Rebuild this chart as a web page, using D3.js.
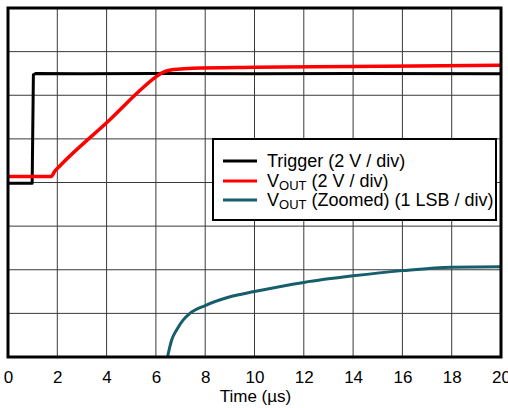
<!DOCTYPE html>
<html>
<head>
<meta charset="utf-8">
<script src="https://cdn.jsdelivr.net/npm/d3@7"></script>
<style>
  html, body { margin: 0; padding: 0; background: #fff; }
  svg { display: block; font-family: "Liberation Sans", Arial, sans-serif; }
</style>
</head>
<body>
<svg id="chart" width="508" height="408"></svg>
<script>
// ---- data (divisions: 0 = bottom grid line, 8 = top grid line) ----
const xTicks = [0, 2, 4, 6, 8, 10, 12, 14, 16, 18, 20];
const yDivs = [0, 1, 2, 3, 4, 5, 6, 7, 8];

const triggerT = [0, 0.98, 1.03, 1.12, 3, 6, 10, 14, 20];
const triggerV = [3.98, 3.98, 6.47, 6.5, 6.49, 6.5, 6.49, 6.5, 6.49];

const voutT = [0, 1.75, 1.9, 2.1, 4.0, 6.0, 6.2, 6.4, 6.6, 7.0, 7.5, 10, 14, 20];
const voutV = [4.14, 4.14, 4.26, 4.38, 5.37, 6.42, 6.5, 6.55, 6.58, 6.6, 6.62, 6.64, 6.66, 6.69];

const zoomT = [6.47, 6.64, 6.84, 7.11, 7.38, 8.0, 8.94, 10, 12, 14, 16, 18, 20];
const zoomV = [0, 0.39, 0.62, 0.85, 1.0, 1.18, 1.37, 1.50, 1.71, 1.86, 1.98, 2.06, 2.07];

const legendLabels = [
  {main: "Trigger (2 V / div)", sub: null, rest: null},
  {main: "V", sub: "OUT", rest: " (2 V / div)"},
  {main: "V", sub: "OUT", rest: " (Zoomed) (1 LSB / div)"}
];
const colors = ["#000000", "#ff0000", "#175e6c"];

// ---- layout ----
const svg = d3.select("#chart");
const pL = 8, pR = 501, pT = 8, pB = 357;

const x = d3.scaleLinear().domain([0, 20]).range([pL, pR]);
const y = d3.scaleLinear().domain([0, 8]).range([pB, pT]);

// grid
const grid = svg.append("g");
grid.selectAll("line.vx").data(xTicks).join("line")
  .attr("x1", d => x(d)).attr("x2", d => x(d))
  .attr("y1", pT).attr("y2", pB)
  .attr("stroke", "#3a3a3a").attr("stroke-width", 1);
grid.selectAll("line.hy").data(yDivs).join("line")
  .attr("y1", d => y(d)).attr("y2", d => y(d))
  .attr("x1", pL).attr("x2", pR)
  .attr("stroke", "#3a3a3a").attr("stroke-width", 1);

// clip
svg.append("clipPath").attr("id", "clip").append("rect")
  .attr("x", pL).attr("y", pT).attr("width", pR - pL).attr("height", pB - pT);

const series = [
  {t: triggerT, v: triggerV, curve: d3.curveLinear, w: 3},
  {t: voutT, v: voutV, curve: d3.curveMonotoneX, w: 3.5},
  {t: zoomT, v: zoomV, curve: d3.curveMonotoneX, w: 3}
];

const plot = svg.append("g").attr("clip-path", "url(#clip)");
series.forEach((s, i) => {
  const pts = s.t.map((t, k) => [t, s.v[k]]);
  const line = d3.line().x(d => x(d[0])).y(d => y(d[1])).curve(s.curve);
  plot.append("path").datum(pts)
    .attr("d", line)
    .attr("fill", "none")
    .attr("stroke", colors[i])
    .attr("stroke-width", s.w)
    .attr("stroke-linejoin", "round");
});

// frame
svg.append("rect")
  .attr("x", pL).attr("y", pT).attr("width", pR - pL).attr("height", pB - pT)
  .attr("fill", "none").attr("stroke", "#000").attr("stroke-width", 3);

// x axis labels
const xAxis = d3.axisBottom(x).tickValues(xTicks).tickSize(0).tickPadding(0).tickFormat(d3.format("d"));
const gx = svg.append("g").attr("transform", `translate(0,${pB})`).call(xAxis);
gx.select(".domain").remove();
gx.selectAll("text").attr("font-size", 17).attr("fill", "#000")
  .attr("font-family", "Liberation Sans, Arial, sans-serif")
  .attr("dy", null).attr("y", 25.5);

svg.append("text")
  .attr("x", (pL + pR) / 2 + 1).attr("y", 402)
  .attr("text-anchor", "middle").attr("font-size", 17).attr("fill", "#000")
  .text("Time (µs)");

// legend
const lg = svg.append("g");
lg.append("rect")
  .attr("x", 213).attr("y", 139).attr("width", 283).attr("height", 81)
  .attr("fill", "#fff").attr("stroke", "#000").attr("stroke-width", 2);
const rowY = [161, 181, 200];
legendLabels.forEach((lab, i) => {
  lg.append("line")
    .attr("x1", 223).attr("x2", 257).attr("y1", rowY[i]).attr("y2", rowY[i])
    .attr("stroke", colors[i]).attr("stroke-width", 3);
  const t = lg.append("text").attr("x", 267).attr("y", rowY[i] + 6)
    .attr("font-size", 18).attr("fill", "#000");
  t.append("tspan").text(lab.main);
  if (lab.sub) {
    t.append("tspan").attr("font-size", 13).attr("dy", 3).text(lab.sub);
    t.append("tspan").attr("dy", -3).text(lab.rest);
  }
});
</script>
</body>
</html>
